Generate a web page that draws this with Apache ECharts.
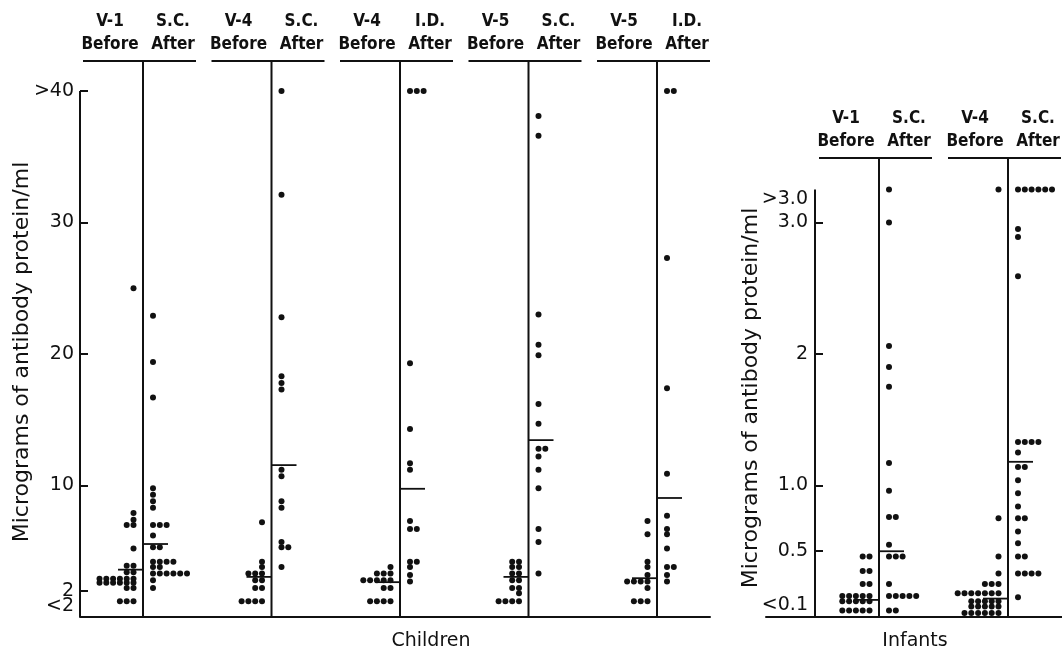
<!DOCTYPE html>
<html>
<head>
<meta charset="utf-8">
<title>Antibody protein before and after vaccination</title>
<script src="https://cdn.jsdelivr.net/npm/echarts@6/dist/echarts.min.js"></script>
<style>
  html, body { margin: 0; padding: 0; background: #fff; }
  #chart { width: 1062px; height: 658px; }
</style>
</head>
<body>
<div id="chart"></div>
<script>
// children, micrograms/ml (">40" plotted at 40, "<2" at 1.2)
const childV1Before = [25.0, 7.9, 7.4, 7.0, 7.0, 5.2, 3.9, 3.9, 3.4, 3.4,
  2.9, 2.9, 2.9, 2.9, 2.9, 2.9, 2.6, 2.6, 2.6, 2.6, 2.6, 2.6, 2.2, 2.2, 1.2, 1.2, 1.2]
const childV1SCAfter = [22.9, 19.4, 16.7, 9.8, 9.3, 8.8, 8.3, 7.0, 7.0, 7.0, 6.2, 5.3, 5.3,
  4.2, 4.2, 4.2, 4.2, 3.8, 3.8, 3.3, 3.3, 3.3, 3.3, 3.3, 3.3, 2.8, 2.2]
const childV4SCBefore = [7.2, 4.2, 3.8, 3.3, 3.3, 3.3, 2.8, 2.8, 2.2, 2.2, 1.2, 1.2, 1.2, 1.2]
const childV4SCAfter = [40, 32.1, 22.8, 18.3, 17.8, 17.3, 11.2, 10.7, 8.8, 8.3, 5.7, 5.3, 5.3, 3.8]
const childV4IDBefore = [3.8, 3.3, 3.3, 3.3, 2.8, 2.8, 2.8, 2.8, 2.8, 2.2, 2.2, 1.2, 1.2, 1.2, 1.2]
const childV4IDAfter = [40, 40, 40, 19.3, 14.3, 11.7, 11.2, 7.3, 6.7, 6.7, 4.2, 4.2, 3.8, 3.2, 2.7]
const childV5SCBefore = [4.2, 4.2, 3.8, 3.8, 3.3, 3.3, 2.8, 2.8, 2.2, 2.2, 1.8, 1.2, 1.2, 1.2, 1.2]
const childV5SCAfter = [38.1, 36.6, 23.0, 20.7, 19.9, 16.2, 14.7, 12.8, 12.8, 12.2, 11.2, 9.8, 6.7, 5.7, 3.3]
const childV5IDBefore = [7.3, 6.3, 4.2, 3.8, 3.2, 2.7, 2.7, 2.7, 2.7, 2.2, 1.2, 1.2, 1.2]
const childV5IDAfter = [40, 40, 27.3, 17.4, 10.9, 7.7, 6.7, 6.3, 5.2, 3.8, 3.8, 3.2, 2.7]
const childMedianBefore = [3.6, 3.05, 2.65, 3.05, 2.95]
const childMedianAfter = [5.55, 11.55, 9.75, 13.45, 9.05]
const childGroups = [['V-1', 'S.C.'], ['V-4', 'S.C.'], ['V-4', 'I.D.'], ['V-5', 'S.C.'], ['V-5', 'I.D.']]

// infants (">3.0" plotted at 3.25)
const infV1Before = [0.46, 0.46, 0.35, 0.35, 0.25, 0.25, 0.16, 0.16, 0.16, 0.16, 0.16,
  0.12, 0.12, 0.12, 0.12, 0.12, 0.05, 0.05, 0.05, 0.05, 0.05]
const infV1SCAfter = [3.25, 3.0, 2.06, 1.9, 1.75, 1.17, 0.96, 0.76, 0.76, 0.55, 0.46, 0.46, 0.46,
  0.25, 0.16, 0.16, 0.16, 0.16, 0.16, 0.05, 0.05]
const infV4Before = [3.25, 0.75, 0.46, 0.33, 0.25, 0.25, 0.25, 0.18, 0.18, 0.18, 0.18, 0.18, 0.18, 0.18,
  0.12, 0.12, 0.12, 0.12, 0.12, 0.08, 0.08, 0.08, 0.08, 0.08, 0.03, 0.03, 0.03, 0.03, 0.03, 0.03]
const infV4SCAfter = [3.25, 3.25, 3.25, 3.25, 3.25, 3.25, 2.95, 2.89, 2.59, 1.33, 1.33, 1.33, 1.33,
  1.25, 1.14, 1.14, 1.04, 0.94, 0.84, 0.75, 0.75, 0.65, 0.56, 0.46, 0.46, 0.33, 0.33, 0.33, 0.33, 0.15]
const infMedianBefore = [0.13, 0.14]
const infMedianAfter = [0.5, 1.18]
const infGroups = [['V-1', 'S.C.'], ['V-4', 'S.C.']]

const childTicks = [2, 10, 20, 30, 40]
const childLabels = [2, 10, 20, 30, 40]
const childBelowLabel = [0.84]   // "<2", sits just under the 2 label
const infTicks = [0.5, 1, 2, 3]
const infLabels = [0.09, 0.5, 1, 2, 3, 3.18]

const INK = '#111'
const DOT_STEP = 6.8
const MEDIAN_LEN = 25
const headFont = 'bold 17px "DejaVu Sans Condensed", "DejaVu Sans", sans-serif'

// panel layout (x axis is in pixels from the grid left)
const panels = [
  {
    grid: { left: 80, top: 61, width: 630, height: 556 },
    yMax: 42.28, axisX: 0, axisTop: 40, firstDivider: 63, step: 128.5,
    groups: childGroups,
    before: [childV1Before, childV4SCBefore, childV4IDBefore, childV5SCBefore, childV5IDBefore],
    after: [childV1SCAfter, childV4SCAfter, childV4IDAfter, childV5SCAfter, childV5IDAfter],
    medBefore: childMedianBefore, medAfter: childMedianAfter,
    ticks: childTicks, labels: childLabels, offset: 0, labelMargin: 6,
    fmt: v => (v > 39 ? '>40' : String(v))
  },
  {
    grid: { left: 766, top: 158, width: 296, height: 459 },
    yMax: 3.49, axisX: 49, axisTop: 3.25, firstDivider: 113, step: 129,
    groups: infGroups,
    before: [infV1Before, infV4Before],
    after: [infV1SCAfter, infV4SCAfter],
    medBefore: infMedianBefore, medAfter: infMedianAfter,
    ticks: infTicks, labels: infLabels, offset: -49, labelMargin: 7,
    fmt: v => (v > 3.1 ? '>3.0' : v < 0.2 ? '<0.1' : v === 1 || v === 3 ? v.toFixed(1) : String(v))
  }
]

// dots with equal values sit side by side, away from the divider
function stackDots(columns, dividers, side) {
  const pts = []
  columns.forEach((vals, i) => {
    const seen = {}
    vals.forEach(v => {
      const k = seen[v] || 0
      seen[v] = k + 1
      const x = side < 0 ? dividers[i] - 9.5 - k * DOT_STEP : dividers[i] + 10 + k * DOT_STEP
      pts.push([x, v])
    })
  })
  return pts
}

function line(p1, p2, w) {
  return {
    type: 'line',
    shape: { x1: p1[0], y1: p1[1], x2: p2[0], y2: p2[1] },
    style: { stroke: INK, lineWidth: w || 2 }
  }
}

function text(str, x, y, font) {
  return {
    type: 'text',
    style: { text: str, x: x, y: y, align: 'center', verticalAlign: 'middle', font: font, fill: INK }
  }
}

const grid = [], xAxis = [], yAxis = [], series = []

panels.forEach((p, pi) => {
  const dividers = p.groups.map((g, i) => p.firstDivider + i * p.step)
  grid.push(p.grid)
  xAxis.push({
    type: 'value', gridIndex: pi, min: 0, max: p.grid.width,
    axisLine: { show: true, lineStyle: { color: INK, width: 2 } },
    axisTick: { show: false }, axisLabel: { show: false }, splitLine: { show: false }
  })
  yAxis.push({
    type: 'value', gridIndex: pi, position: 'left', min: 0, max: p.yMax, offset: p.offset,
    axisLine: { show: false }, splitLine: { show: false },
    axisTick: { show: true, inside: true, length: 8, customValues: p.ticks, lineStyle: { color: INK, width: 2 } },
    axisLabel: {
      customValues: p.labels, margin: p.labelMargin, color: INK,
      showMinLabel: true, showMaxLabel: true, hideOverlap: false,
      fontFamily: 'DejaVu Sans', fontSize: 19, formatter: p.fmt
    }
  })
  const axes = { xAxisIndex: pi, yAxisIndex: pi }

  // y axis line, only up to the top tick
  series.push(Object.assign({
    type: 'line', silent: true, clip: false, symbol: 'none',
    lineStyle: { color: INK, width: 2 },
    data: [[p.axisX, 0], [p.axisX, p.axisTop]]
  }, axes))

  // dividers, header rules and column headings
  series.push(Object.assign({
    type: 'custom', silent: true, clip: false,
    data: dividers.map(d => [d, p.yMax]),
    renderItem: (params, api) => {
      const d = api.value(0), top = api.value(1)
      const g = p.groups[params.dataIndex]
      const t = api.coord([d, top])
      const bx = api.coord([d - 33, top])[0]
      const ax = api.coord([d + 30, top])[0]
      return {
        type: 'group',
        children: [
          line(t, api.coord([d, 0])),
          line(api.coord([d - 60, top]), api.coord([d + 53, top])),
          text(g[0], bx, t[1] - 39, headFont),
          text('Before', bx, t[1] - 16, headFont),
          text(g[1], ax, t[1] - 39, headFont),
          text('After', ax, t[1] - 16, headFont)
        ]
      }
    }
  }, axes))

  // medians
  const meds = []
  dividers.forEach((d, i) => {
    meds.push([d, p.medBefore[i], -1])
    meds.push([d, p.medAfter[i], 1])
  })
  series.push(Object.assign({
    type: 'custom', silent: true, clip: false, data: meds,
    renderItem: (params, api) => {
      const d = api.value(0), m = api.value(1), s = api.value(2)
      return line(api.coord([d, m]), api.coord([d + s * MEDIAN_LEN, m]), 1.8)
    }
  }, axes))

  // dots
  series.push(Object.assign({
    type: 'scatter', silent: true, symbolSize: 6,
    itemStyle: { color: INK, opacity: 1 },
    data: stackDots(p.before, dividers, -1).concat(stackDots(p.after, dividers, 1))
  }, axes))
})

// second label-only axis for the children "<2" label, so it is not dropped next to "2"
yAxis.push({
  type: 'value', gridIndex: 0, position: 'left', offset: 0, min: 0, max: panels[0].yMax,
  axisLine: { show: false }, axisTick: { show: false }, splitLine: { show: false },
  axisLabel: {
    customValues: childBelowLabel, margin: 6, color: INK,
    showMinLabel: true, showMaxLabel: true,
    fontFamily: 'DejaVu Sans', fontSize: 19, formatter: () => '<2'
  }
})

const titleFont = '22px "DejaVu Sans", sans-serif'
const chart = echarts.init(document.getElementById('chart'), null, { renderer: 'canvas' })
chart.setOption({
  backgroundColor: '#fff',
  animation: false,
  grid: grid,
  xAxis: xAxis,
  yAxis: yAxis,
  series: series,
  graphic: [
    { type: 'text', x: 22, y: 352, rotation: Math.PI / 2,
      style: { text: 'Micrograms of antibody protein/ml', font: titleFont, fill: INK, align: 'center', verticalAlign: 'middle' } },
    { type: 'text', x: 751, y: 398, rotation: Math.PI / 2,
      style: { text: 'Micrograms of antibody protein/ml', font: titleFont, fill: INK, align: 'center', verticalAlign: 'middle' } },
    { type: 'text', x: 431, y: 641,
      style: { text: 'Children', font: '19px "DejaVu Sans", sans-serif', fill: INK, align: 'center', verticalAlign: 'middle' } },
    { type: 'text', x: 915, y: 641,
      style: { text: 'Infants', font: '19px "DejaVu Sans", sans-serif', fill: INK, align: 'center', verticalAlign: 'middle' } }
  ]
})
</script>
</body>
</html>
